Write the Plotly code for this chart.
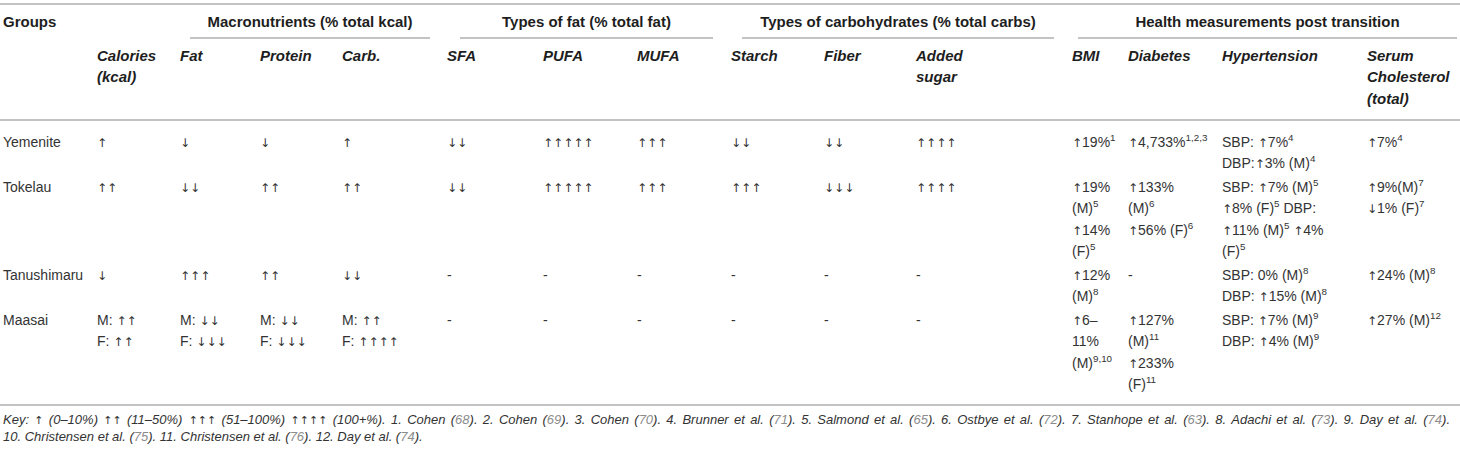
import re
import plotly.graph_objects as go

# --- table content ---
groups_title = "Groups"
group_heads = ["Macronutrients (% total kcal)", "Types of fat (% total fat)",
               "Types of carbohydrates (% total carbs)", "Health measurements post transition"]
sub_heads = ["Calories<br>(kcal)", "Fat", "Protein", "Carb.", "SFA", "PUFA", "MUFA",
             "Starch", "Fiber", "Added<br>sugar", "BMI", "Diabetes", "Hypertension",
             "Serum<br>Cholesterol<br>(total)"]

groups = ["Yemenite", "Tokelau", "Tanushimaru", "Maasai"]
yemenite = ["↑", "↓", "↓", "↑", "↓↓", "↑↑↑↑↑", "↑↑↑", "↓↓", "↓↓", "↑↑↑↑",
            "↑19%<sup>1</sup>", "↑4,733%<sup>1,2,3</sup>",
            "SBP: ↑7%<sup>4</sup><br>DBP:↑3% (M)<sup>4</sup>", "↑7%<sup>4</sup>"]
tokelau = ["↑↑", "↓↓", "↑↑", "↑↑", "↓↓", "↑↑↑↑↑", "↑↑↑", "↑↑↑", "↓↓↓", "↑↑↑↑",
           "↑19%<br>(M)<sup>5</sup><br>↑14%<br>(F)<sup>5</sup>",
           "↑133%<br>(M)<sup>6</sup><br>↑56% (F)<sup>6</sup>",
           "SBP: ↑7% (M)<sup>5</sup><br>↑8% (F)<sup>5</sup> DBP:<br>↑11% (M)<sup>5</sup> ↑4%<br>(F)<sup>5</sup>",
           "↑9%(M)<sup>7</sup><br>↓1% (F)<sup>7</sup>"]
tanushimaru = ["↓", "↑↑↑", "↑↑", "↓↓", "-", "-", "-", "-", "-", "-",
               "↑12%<br>(M)<sup>8</sup>", "-",
               "SBP: 0% (M)<sup>8</sup><br>DBP: ↑15% (M)<sup>8</sup>", "↑24% (M)<sup>8</sup>"]
maasai = ["M: ↑↑<br>F: ↑↑", "M: ↓↓<br>F: ↓↓↓", "M: ↓↓<br>F: ↓↓↓", "M: ↑↑<br>F: ↑↑↑↑",
          "-", "-", "-", "-", "-", "-",
          "↑6–<br>11%<br>(M)<sup>9,10</sup>", "↑127%<br>(M)<sup>11</sup><br>↑233%<br>(F)<sup>11</sup>",
          "SBP: ↑7% (M)<sup>9</sup><br>DBP: ↑4% (M)<sup>9</sup>", "↑27% (M)<sup>12</sup>"]
rows = [yemenite, tokelau, tanushimaru, maasai]

key_line1 = ("Key: ↑ (0–10%) ↑↑ (11–50%) ↑↑↑ (51–100%) ↑↑↑↑ (100+%). 1. Cohen (68). 2. Cohen (69). "
             "3. Cohen (70). 4. Brunner et al. (71). 5. Salmond et al. (65). 6. Ostbye et al. (72). "
             "7. Stanhope et al. (63). 8. Adachi et al. (73). 9. Day et al. (74).")
key_line2 = "10. Christensen et al. (75). 11. Christensen et al. (76). 12. Day et al. (74)."

# --- layout constants (pixels) ---
W, H = 1460, 453
FONT = "Liberation Sans, Arial, sans-serif"
COL_X = [97, 180, 260, 342, 447, 543, 637, 731, 824, 916, 1072, 1128, 1222, 1367]
GROUP_SPANS = [(190, 430), (460, 713), (742, 1054), (1078, 1457)]
LINE_H = 21.5
ROW_GAP = 2
LINE_CLR = "#c3c3c3"
KEY_SIZE = 13
KEY_L, KEY_R = 3, 1450
KEY_Y = [421, 438]

# Arial advance widths (1/1000 em) for justifying the first footnote line
AW = {" ": 278, "(": 333, ")": 333, "%": 889, "+": 584, ".": 278, ":": 278, "–": 556,
      "K": 667, "C": 722, "B": 667, "S": 667, "O": 778, "A": 667, "D": 722,
      "a": 556, "b": 556, "c": 500, "d": 556, "e": 556, "h": 556, "i": 222, "l": 222,
      "m": 833, "n": 556, "o": 556, "p": 556, "r": 333, "s": 500, "t": 278, "u": 556, "y": 500}


def arrows(s, size):
    return re.sub("([↑↓])", r"<span style='font-family:DejaVu Sans;font-size:%gpx'>\1</span>" % size, s)


def refs(s):
    return re.sub(r"\((\d\d)\)", r"(<span style='color:#8c8c8c'>\1</span>)", s)


def text_w(s):
    return sum(0.838 * 11 if ch in "↑↓" else AW.get(ch, 556) / 1000 * KEY_SIZE for ch in s)


def split_cells(x, y0, cell, xs, ys, ts):
    for i, part in enumerate(cell.split("<br>")):
        xs.append(x)
        ys.append(y0 + i * LINE_H)
        ts.append(part)


def text_trace(xs, ys, texts, pos, font):
    return go.Scatter(x=xs, y=ys, text=texts, mode="text", textposition=pos, textfont=font,
                      cliponaxis=False, hoverinfo="skip")


fig = go.Figure()
hdr_font = dict(family=FONT, size=15, color="#1e1e1e")

# header row 1
fig.add_trace(text_trace([3], [23], ["<b>" + groups_title + "</b>"], "middle right", hdr_font))
fig.add_trace(text_trace([(a + b) / 2 for a, b in GROUP_SPANS], [23] * 4,
                         ["<b>" + t + "</b>" for t in group_heads], "middle center", hdr_font))

# sub headers
sx, sy, st = [], [], []
for x, cell in zip(COL_X, sub_heads):
    split_cells(x, 57, cell, sx, sy, st)
fig.add_trace(text_trace(sx, sy, ["<b><i>" + t + "</i></b>" for t in st], "middle right", hdr_font))

# body
bx, by, bt = [], [], []
y0 = 143
for name, row in zip(groups, rows):
    split_cells(3, y0, name, bx, by, bt)
    n = 1
    for x, cell in zip(COL_X, row):
        split_cells(x, y0, cell, bx, by, bt)
        n = max(n, cell.count("<br>") + 1)
    y0 += n * LINE_H + ROW_GAP
fig.add_trace(text_trace(bx, by, [arrows(t, 12) for t in bt], "middle right",
                         dict(family=FONT, size=14, color="#333333")))

# footnote: first line justified word by word, second line left aligned
words = key_line1.split(" ")
extra = (KEY_R - KEY_L - sum(text_w(w) for w in words)) / (len(words) - 1)
kx, ky, kt = [], [], []
xpos = KEY_L
for w in words:
    kx.append(xpos)
    ky.append(KEY_Y[0])
    kt.append(w)
    xpos += text_w(w) + extra
kx.append(KEY_L)
ky.append(KEY_Y[1])
kt.append(key_line2)
fig.add_trace(text_trace(kx, ky, ["<i>" + arrows(refs(t), 11) + "</i>" for t in kt], "middle right",
                         dict(family=FONT, size=KEY_SIZE, color="#333333")))

shapes = [dict(type="line", x0=0, x1=W, y0=yy, y1=yy, line=dict(color=LINE_CLR, width=2))
          for yy in (4, 120, 405)]
shapes += [dict(type="line", x0=a, x1=b, y0=38, y1=38, line=dict(color=LINE_CLR, width=2))
           for a, b in GROUP_SPANS]

fig.update_layout(
    width=W, height=H, margin=dict(l=0, r=0, t=0, b=0),
    paper_bgcolor="white", plot_bgcolor="white", showlegend=False,
    xaxis=dict(range=[0, W], visible=False, fixedrange=True),
    yaxis=dict(range=[H, 0], visible=False, fixedrange=True),
    shapes=shapes,
)

# the page body margin would push the figure 8px in from the corner
fig.write_html("out.html", config={"displayModeBar": False},
               post_script="document.body.style.margin = '0';")
